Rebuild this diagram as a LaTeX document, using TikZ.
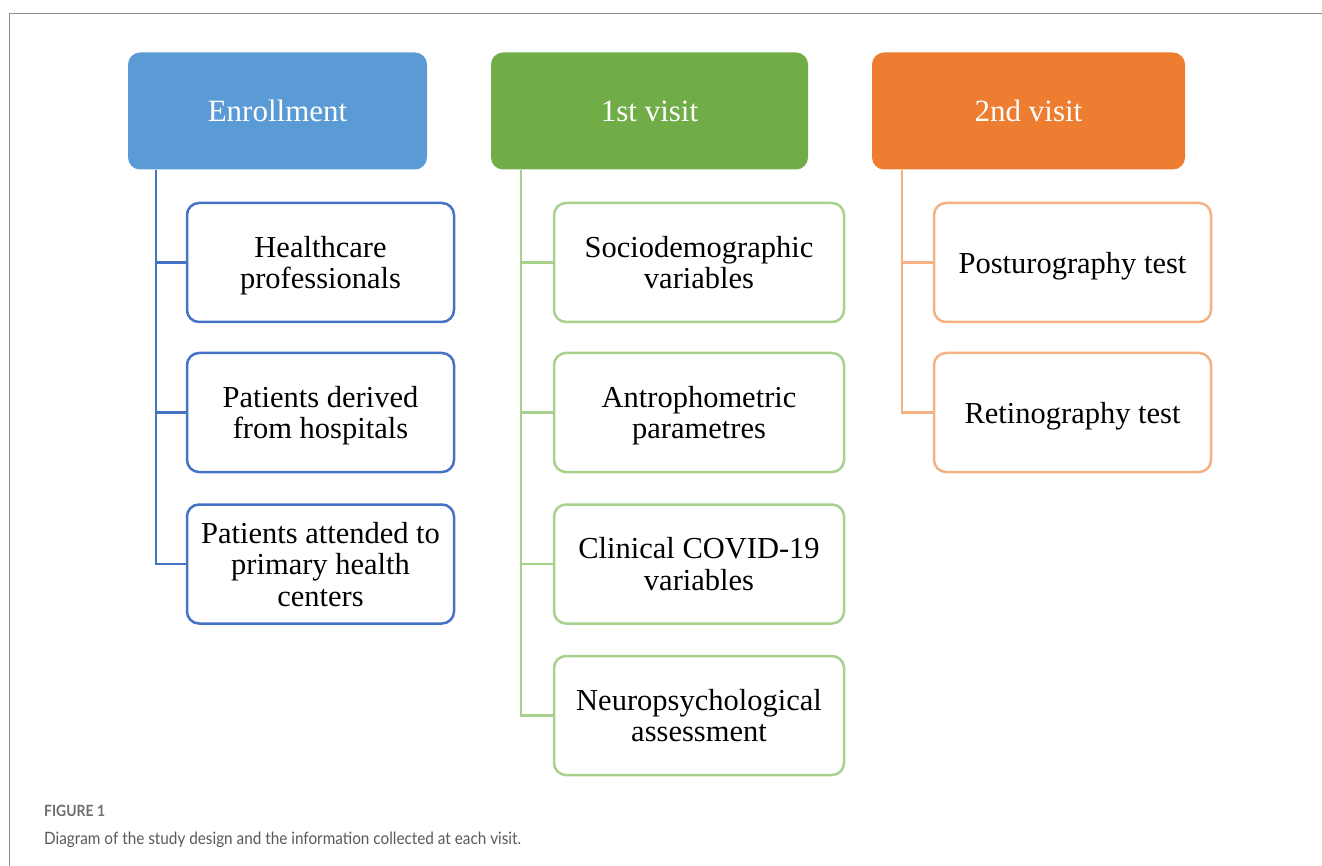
\documentclass[tikz,border=0pt]{standalone}
\usepackage{fontspec}
\setmainfont{Liberation Serif}
\newfontfamily\capfont[FakeStretch=0.9]{Lato}
\definecolor{hblue}{HTML}{5B9BD5}
\definecolor{bblue}{HTML}{4472C4}
\definecolor{hgreen}{HTML}{70AD47}
\definecolor{bgreen}{HTML}{A9D18E}
\definecolor{horange}{HTML}{ED7D31}
\definecolor{borange}{HTML}{F4B183}
\definecolor{framegray}{HTML}{8C8C8C}
\definecolor{capgray}{HTML}{6D6E71}
\definecolor{captext}{HTML}{58595B}
\begin{document}
\begin{tikzpicture}[x=1pt,y=-1pt,
  head/.style={rectangle, rounded corners=12pt, inner sep=0pt, minimum height=117pt,
    text=white, align=center, font=\fontsize{31}{31}\selectfont},
  child/.style={rectangle, draw, line width=2.5pt, rounded corners=12pt, fill=white,
    inner sep=0pt, minimum height=119pt, align=center, text=black, text depth=0pt,
    font=\fontsize{30.5}{31.5}\selectfont},
  conn/.style={line width=2.8pt}]
\useasboundingbox (0,0) rectangle (1322,866);
% frame
\draw[framegray, line width=1.4pt] (9.5,866) -- (9.5,13.5) -- (1322,13.5);

% headers
\node[head, fill=hblue, minimum width=299pt] (enr) at (277.5,111) {Enrollment};
\node[head, fill=hgreen, minimum width=317pt] (v1) at (649.5,111) {1st visit};
\node[head, fill=horange, minimum width=313pt] (v2) at (1028.5,111) {2nd visit};

% enrollment children
\node[child, draw=bblue, minimum width=267pt] (e1) at (320.5,262.5) {Healthcare\\professionals};
\node[child, draw=bblue, minimum width=267pt] (e2) at (320.5,412.5) {Patients derived\\from hospitals};
\node[child, draw=bblue, minimum width=267pt] (e3) at (320.5,564) {Patients attended to\\primary health\\centers};

% 1st visit children
\node[child, draw=bgreen, minimum width=290pt] (g1) at (699,262.5) {Sociodemographic\\variables};
\node[child, draw=bgreen, minimum width=290pt] (g2) at (699,412.5) {Antrophometric\\parametres};
\node[child, draw=bgreen, minimum width=290pt] (g3) at (699,564) {Clinical COVID-19\\variables};
\node[child, draw=bgreen, minimum width=290pt] (g4) at (699,715.5) {Neuropsychological\\assessment};

% 2nd visit children
\node[child, draw=borange, minimum width=277pt] (o1) at (1072.5,262.5) {Posturography test};
\node[child, draw=borange, minimum width=277pt] (o2) at (1072.5,412.5) {Retinography test};

% trunks
\coordinate (et) at (156,170);
\coordinate (gt) at (521,170);
\coordinate (ot) at (902,170);

\draw[conn, bblue] (enr.south -| et) |- (e3.west);
\draw[conn, bblue] (e1.west -| et) -- (e1.west);
\draw[conn, bblue] (e2.west -| et) -- (e2.west);

\draw[conn, bgreen] (v1.south -| gt) |- (g4.west);
\draw[conn, bgreen] (g1.west -| gt) -- (g1.west);
\draw[conn, bgreen] (g2.west -| gt) -- (g2.west);
\draw[conn, bgreen] (g3.west -| gt) -- (g3.west);

\draw[conn, borange] (v2.south -| ot) |- (o2.west);
\draw[conn, borange] (o1.west -| ot) -- (o1.west);

% caption
\node[anchor=base west, inner sep=0pt, text=capgray, font=\capfont\bfseries\fontsize{15.5}{15.5}\selectfont] (fig) at (44,816) {FIGURE 1};
\node[anchor=base west, inner sep=0pt, text=captext, font=\capfont\fontsize{17}{17}\selectfont] (cap) at (44,844) {Diagram of the study design and the information collected at each visit.};
\end{tikzpicture}
\end{document}
